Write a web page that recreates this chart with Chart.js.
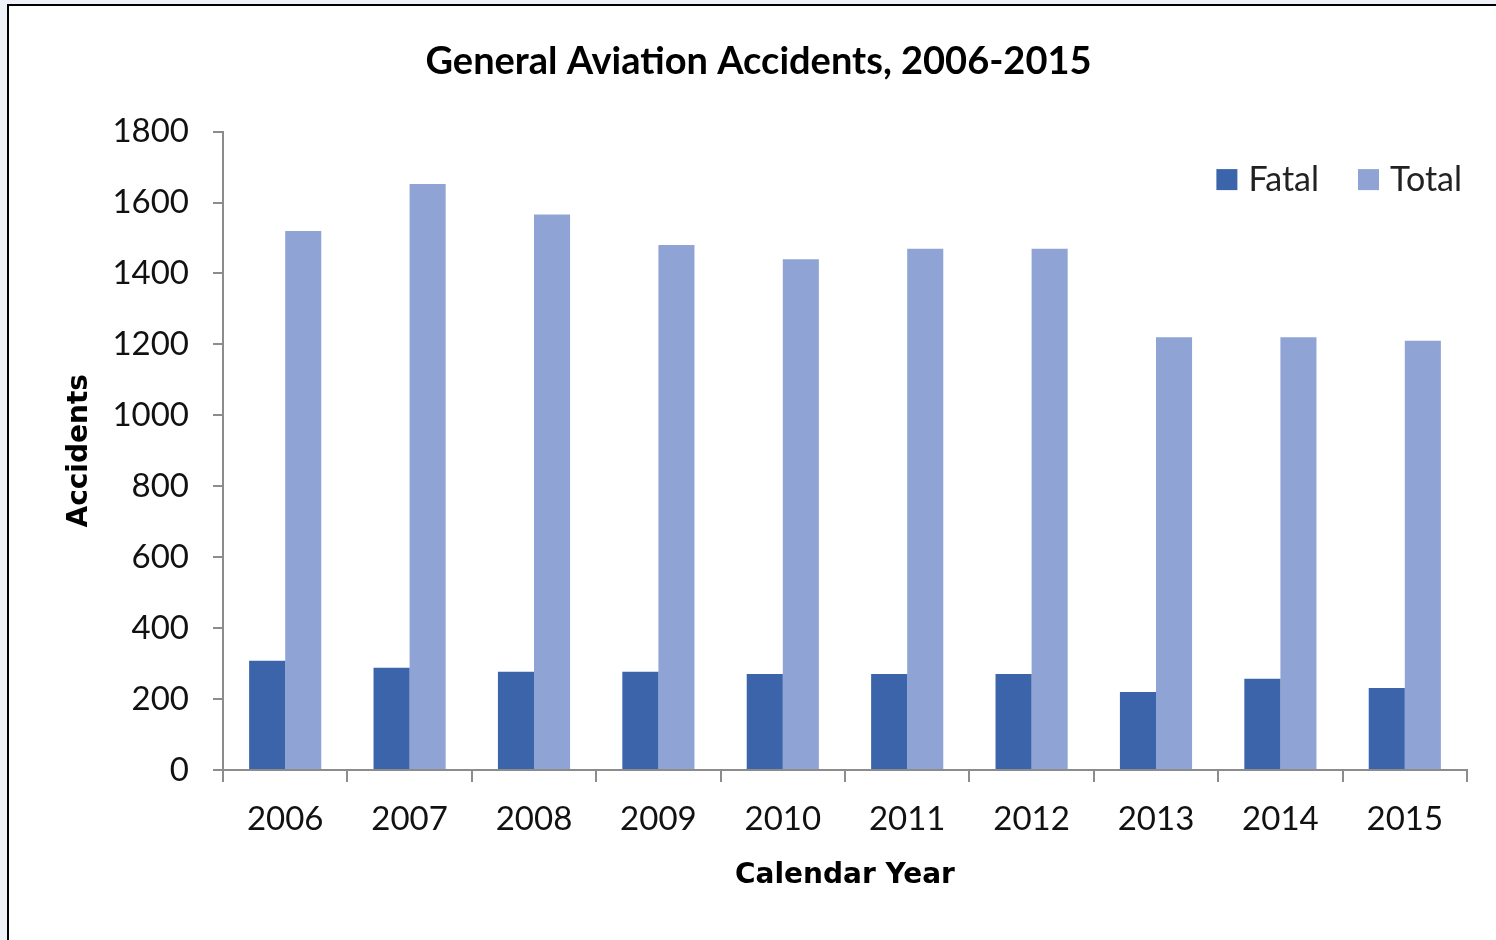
<!DOCTYPE html>
<html>
<head>
<meta charset="utf-8">
<script src="https://cdn.jsdelivr.net/npm/chart.js@4"></script>
<style>
  html, body { margin: 0; padding: 0; background: #eef2f8; }
  #frame {
    position: absolute; left: 7px; top: 4px; width: 1600px; height: 1000px;
    background: #fff; border-left: 2px solid #000; border-top: 2px solid #000;
  }
  #wrap { position: absolute; left: 0; top: 0; width: 1496px; height: 940px; }
</style>
</head>
<body>
<div id="frame"></div>
<div id="wrap"><canvas id="chart"></canvas></div>
<script>
const years = ["2006", "2007", "2008", "2009", "2010", "2011", "2012", "2013", "2014", "2015"];
const fatal = [308, 288, 277, 277, 271, 271, 271, 220, 257, 231];
const total = [1520, 1652, 1566, 1480, 1440, 1470, 1470, 1220, 1220, 1210];
const yTicks = [0, 200, 400, 600, 800, 1000, 1200, 1400, 1600, 1800];

const fatalColor = "#3c64ab";
const totalColor = "#8fa4d4";
const tickFont = { family: "Lato", size: 33 };

// legend sits inside the plot area, top right
const insideLegend = {
    id: "insideLegend",
    afterDraw(chart) {
        const ctx = chart.ctx;
        const area = chart.chartArea;
        const items = chart.data.datasets.map(d => ({ label: d.label, color: d.backgroundColor }));
        ctx.save();
        ctx.font = "34px Lato";
        ctx.textBaseline = "middle";
        const box = 21, gap = 11, spacing = 39;
        let x = area.right - 5;
        const y = area.top + 48;
        for (let i = items.length - 1; i >= 0; i--) {
            const w = ctx.measureText(items[i].label).width;
            x -= w;
            ctx.fillStyle = "#222";
            ctx.fillText(items[i].label, x, y);
            x -= gap + box;
            ctx.fillStyle = items[i].color;
            ctx.fillRect(x, y - box / 2, box, box);
            x -= spacing;
        }
        ctx.restore();
    }
};

new Chart(document.getElementById("chart").getContext("2d"), {
    type: "bar",
    data: {
        labels: years,
        datasets: [
            { label: "Fatal", data: fatal, backgroundColor: fatalColor,
              categoryPercentage: 0.58, barPercentage: 1.0 },
            { label: "Total", data: total, backgroundColor: totalColor,
              categoryPercentage: 0.58, barPercentage: 1.0 },
        ],
    },
    options: {
        responsive: true,
        maintainAspectRatio: false,
        animation: false,
        layout: { padding: { left: 50, right: 29, top: 0, bottom: 40 } },
        plugins: {
            legend: { display: false },
            tooltip: { enabled: false },
            title: {
                display: true,
                text: "General Aviation Accidents, 2006-2015",
                color: "#000",
                font: { family: "Lato", size: 38, weight: "bold" },
                padding: { top: 39, bottom: 47 },
            },
        },
        scales: {
            x: {
                grid: { drawOnChartArea: false, offset: true, tickLength: 12, color: "#8c8c8c", lineWidth: 2 },
                border: { color: "#8c8c8c", width: 2 },
                ticks: { color: "#111", font: tickFont, padding: 18, maxRotation: 0 },
                title: {
                    display: true, text: "Calendar Year", color: "#000",
                    font: { family: "DejaVu Sans", size: 28, weight: "bold" }, padding: 7,
                },
                afterFit(scale) { scale.height = 130; },
            },
            y: {
                min: 0, max: 1800,
                afterBuildTicks(scale) { scale.ticks = yTicks.map(v => ({ value: v })); },
                grid: { drawOnChartArea: false, tickLength: 10, color: "#8c8c8c", lineWidth: 2 },
                border: { color: "#8c8c8c", width: 2 },
                ticks: { color: "#111", font: tickFont, padding: 24, callback: v => String(v) },
                title: {
                    display: true, text: "Accidents", color: "#000",
                    font: { family: "DejaVu Sans", size: 28, weight: "bold" }, padding: 13,
                },
                afterFit(scale) { scale.width = 173; },
            },
        },
    },
    plugins: [insideLegend],
});
</script>
</body>
</html>
